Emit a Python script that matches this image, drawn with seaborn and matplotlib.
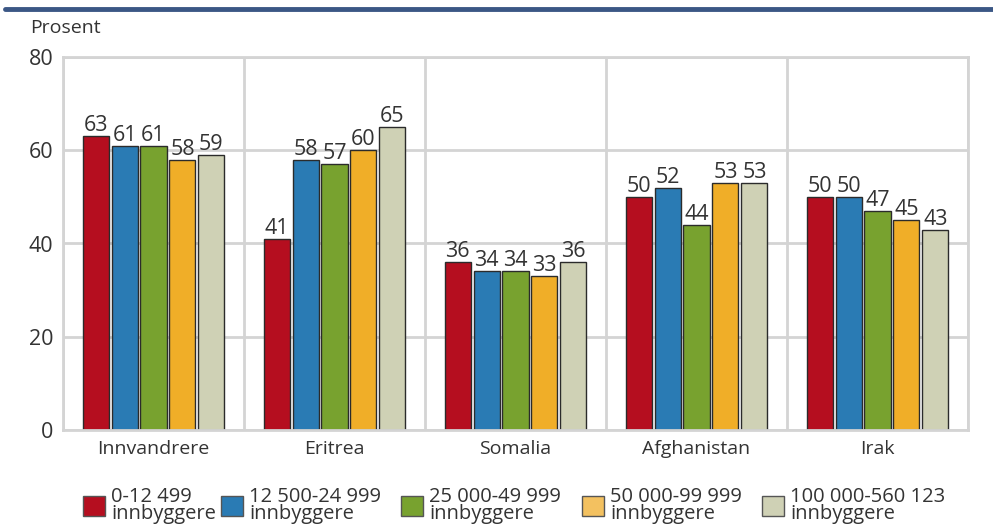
import matplotlib
matplotlib.use('Agg')
import matplotlib.pyplot as plt
from matplotlib.patches import Patch
import seaborn as sns
import pandas as pd
import numpy as np

categories = ["Innvandrere", "Eritrea", "Somalia", "Afghanistan", "Irak"]
groups = ["0-12 499\ninnbyggere", "12 500-24 999\ninnbyggere", "25 000-49 999\ninnbyggere",
          "50 000-99 999\ninnbyggere", "100 000-560 123\ninnbyggere"]
v_small = [63, 41, 36, 50, 50]
v_12500 = [61, 58, 34, 52, 50]
v_25000 = [61, 57, 34, 44, 47]
v_50000 = [58, 60, 33, 53, 45]
v_100000 = [59, 65, 36, 53, 43]
yticks = [0, 20, 40, 60, 80]

colors = ["#b50e1f", "#2a7bb4", "#78a22f", "#f0ae28", "#cfd1b5"]
legend_colors = ["#b50e1f", "#2a7bb4", "#78a22f", "#f3c160", "#cfd1b5"]

rows = []
for g, vals in zip(groups, [v_small, v_12500, v_25000, v_50000, v_100000]):
    for c, v in zip(categories, vals):
        rows.append({"kategori": c, "gruppe": g, "prosent": v})
df = pd.DataFrame(rows)

sns.set_style("white")
plt.rcParams['font.family'] = ['Open Sans', 'DejaVu Sans']
txt = "#333333"
fs = 14

fig = plt.figure(figsize=(9.93, 5.26), dpi=100)
ax = fig.add_axes([63/993, 1-430/526, (968-63)/993, (430-57)/526])

sns.barplot(data=df, x="kategori", y="prosent", hue="gruppe", order=categories,
            hue_order=groups, palette=colors, width=0.8, gap=0.1, edgecolor="#2b2b2b",
            linewidth=1.0, ax=ax, legend=False, saturation=1)

for cont in ax.containers:
    ax.bar_label(cont, fmt='%d', padding=0, fontsize=15.5, color=txt)

ax.set_ylim(0, 80)
ax.set_xlim(-0.5, 4.5)
ax.set_yticks(yticks)
ax.set_xticks(range(len(categories)))
ax.set_xticks(np.arange(-0.5, 5, 1), minor=True)
ax.set_xticklabels(categories)
ax.grid(axis='y', color="#d4d4d4", linewidth=2)
ax.grid(axis='x', which='minor', color="#d4d4d4", linewidth=2)
ax.grid(axis='x', which='major', visible=False)
ax.set_axisbelow(True)
ax.tick_params(axis='both', which='both', length=0, labelcolor=txt)
ax.tick_params(axis='x', pad=7, labelsize=fs)
ax.tick_params(axis='y', pad=7, labelsize=15.5)
for s in ax.spines.values():
    s.set_color("#d4d4d4")
    s.set_linewidth(2)
ax.set_xlabel("")
ax.set_ylabel("")

fig.text(30/993, 1-28/526, "Prosent", fontsize=fs, color=txt, va='center', ha='left')

# topplinje
fig.add_artist(plt.Line2D([5/993, 1], [1-9/526, 1-9/526], color="#3b5785", linewidth=3.5))

# tegnforklaring, en oppføring per kolonne
leg_x = [83, 221, 401, 582, 762]
for x0, c, lab in zip(leg_x, legend_colors, groups):
    h = Patch(facecolor=c, edgecolor="#555555", linewidth=1.0)
    leg = fig.legend([h], [lab], loc='upper left', bbox_to_anchor=(x0/993, 1-487/526),
                     frameon=False, fontsize=14.5, handlelength=1.1, handleheight=1.1,
                     handletextpad=0.3, borderaxespad=0, borderpad=0)
    for t in leg.get_texts():
        t.set_color(txt)
        t.set_linespacing(0.78)

fig.savefig("out.png", dpi=100)
